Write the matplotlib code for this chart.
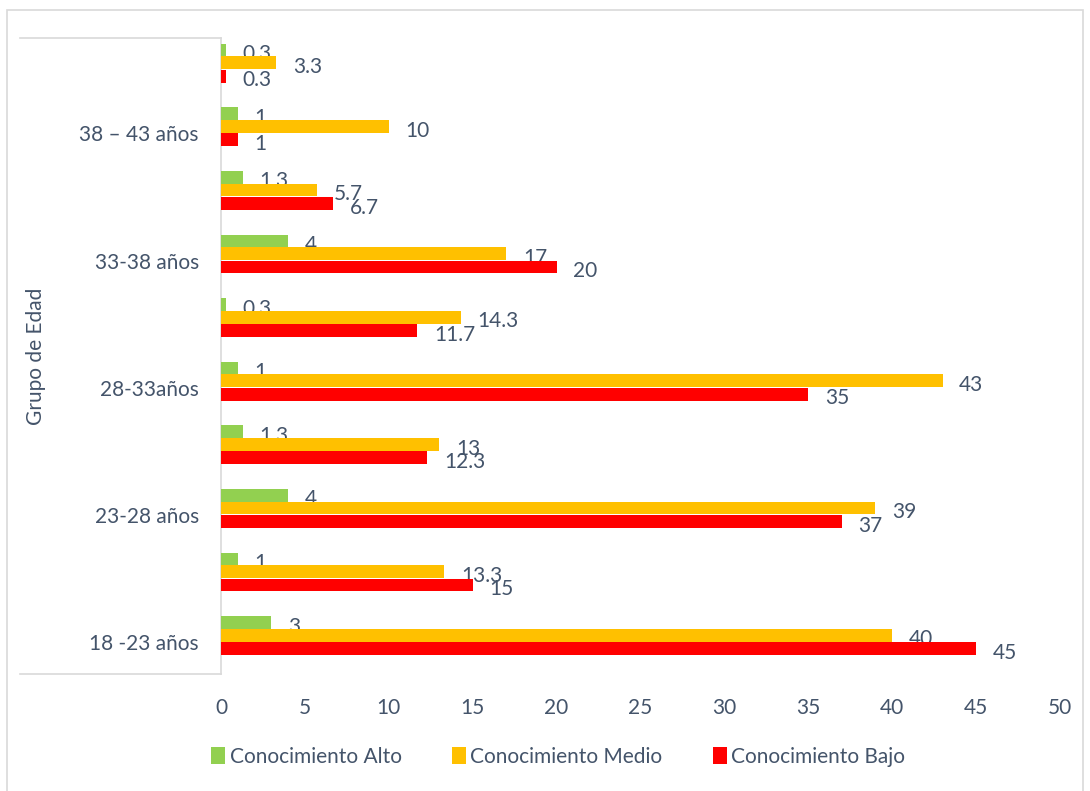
import matplotlib
matplotlib.use("Agg")
import matplotlib.pyplot as plt
import numpy as np
from matplotlib.lines import Line2D
from matplotlib.patches import Rectangle

plt.rcParams['font.family'] = ['Lato', 'DejaVu Sans']

# groups from bottom to top
grupos = ['18 -23 años', '', '23-28 años', '', '28-33años', '', '33-38 años', '', '38 – 43 años', '']
alto = [3, 1, 4, 1.3, 1, 0.3, 4, 1.3, 1, 0.3]
medio = [40, 13.3, 39, 13, 43, 14.3, 17, 5.7, 10, 3.3]
bajo = [45, 15, 37, 12.3, 35, 11.7, 20, 6.7, 1, 0.3]

c_alto = '#92D050'
c_medio = '#FFC000'
c_bajo = '#FF0000'
txt = '#44546A'

L, R = 221, 1060
fig = plt.figure(figsize=(10.9, 7.91), dpi=100)
ax = fig.add_axes([L/1090, 1-674/791, (R-L)/1090, (674-38)/791])

y = np.arange(len(grupos))
h = 0.2
series = [(alto, 0.31, c_alto, 'Conocimiento Alto'),
          (medio, 0.11, c_medio, 'Conocimiento Medio'),
          (bajo, -0.1, c_bajo, 'Conocimiento Bajo')]

for vals, off, col, lab in series:
    ax.barh(y + off, vals, height=h, color=col, label=lab, zorder=3)
    for yi, v in zip(y, vals):
        ax.annotate(f'{v:g}', xy=(v, yi + off), xytext=(12, -3), textcoords='offset points',
                    ha='left', va='center', fontsize=15, color=txt, zorder=2)

ax.set_xlim(0, 50)
ax.set_ylim(-0.5, 9.5)
ax.set_xticks(range(0, 51, 5))
ax.set_yticks(y)
ax.set_yticklabels(grupos)
ax.tick_params(axis='both', length=0, labelsize=15, labelcolor=txt)
ax.tick_params(axis='y', pad=16)
ax.tick_params(axis='x', pad=17)
for s in ['top', 'right', 'bottom']:
    ax.spines[s].set_visible(False)
ax.spines['left'].set_color('#D9D9D9')
ax.spines['left'].set_linewidth(1.2)

ax.set_ylabel('Grupo de Edad', fontsize=15, color=txt)
ax.yaxis.set_label_coords(-(L-46)/(R-L), 0.5)

# category box lines
for yy in [38, 674]:
    fig.add_artist(Line2D([20/1090, L/1090], [1-yy/791, 1-yy/791], color='#D9D9D9', lw=1.2))

# outer chart border
fig.add_artist(Rectangle((7/1090, -0.02), (1083-7)/1090, 1-10/791+0.02, fill=False,
                         edgecolor='#D9D9D9', lw=1.2))

fig.legend(loc='center', bbox_to_anchor=(0.512, 1-757/791), ncol=3, frameon=False,
           fontsize=15, labelcolor=txt, handlelength=0.7, handleheight=0.9,
           handletextpad=0.2, columnspacing=2.4)

fig.savefig('out.png', dpi=100)
